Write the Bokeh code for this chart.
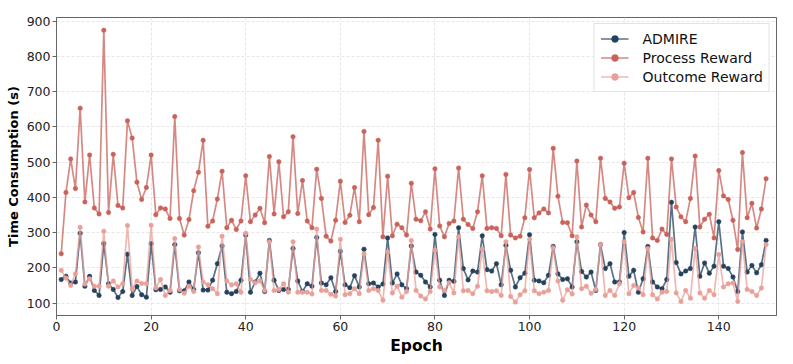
from bokeh.plotting import figure
from bokeh.models import ColumnDataSource, Legend, LegendItem, FixedTicker, Range1d
from bokeh.embed import file_html
from bokeh.resources import INLINE

epochs = list(range(1, 151))

admire = [167, 176, 157, 160, 298, 148, 176, 136, 122, 269,
          155, 139, 116, 133, 239, 122, 147, 124, 117, 269,
          138, 139, 146, 131, 266, 135, 135, 160, 139, 243,
          137, 137, 165, 212, 262, 131, 127, 133, 165, 293,
          131, 160, 185, 133, 278, 165, 136, 139, 139, 255,
          163, 133, 155, 148, 286, 157, 152, 172, 133, 247,
          152, 144, 178, 146, 253, 155, 157, 146, 154, 285,
          157, 183, 152, 141, 262, 188, 179, 160, 146, 295,
          165, 122, 165, 162, 314, 198, 166, 191, 188, 291,
          195, 191, 212, 152, 264, 193, 146, 172, 185, 294,
          165, 163, 158, 179, 261, 183, 167, 169, 146, 274,
          190, 174, 188, 136, 266, 198, 212, 160, 160, 300,
          176, 193, 131, 169, 261, 160, 146, 141, 167, 386,
          215, 183, 191, 198, 316, 176, 214, 185, 205, 331,
          205, 198, 174, 133, 302, 188, 207, 186, 209, 278]

process_reward = [240, 414, 509, 425, 653, 387, 520, 370, 353, 874,
                  357, 522, 377, 370, 617, 568, 443, 394, 428, 520,
                  351, 370, 367, 340, 629, 340, 293, 337, 419, 471,
                  562, 318, 333, 395, 474, 314, 335, 309, 333, 461,
                  331, 350, 369, 328, 516, 353, 501, 345, 359, 572,
                  354, 448, 333, 314, 480, 397, 290, 276, 335, 446,
                  329, 349, 428, 331, 587, 351, 371, 562, 288, 460,
                  291, 324, 314, 293, 440, 338, 334, 359, 310, 481,
                  319, 288, 326, 333, 483, 338, 323, 312, 359, 461,
                  312, 314, 312, 291, 465, 293, 285, 290, 342, 479,
                  342, 356, 367, 356, 539, 403, 329, 328, 291, 503,
                  316, 378, 350, 331, 511, 397, 387, 369, 373, 497,
                  399, 414, 343, 302, 511, 285, 278, 310, 295, 509,
                  373, 345, 331, 397, 517, 316, 338, 352, 285, 476,
                  404, 394, 335, 252, 527, 342, 383, 313, 367, 453]

outcome_reward = [193, 171, 150, 183, 315, 154, 169, 148, 148, 304,
                  148, 163, 146, 155, 320, 141, 163, 156, 155, 321,
                  143, 167, 122, 136, 283, 139, 128, 148, 133, 259,
                  160, 152, 141, 127, 290, 163, 152, 155, 131, 298,
                  167, 158, 163, 136, 274, 136, 139, 155, 131, 274,
                  131, 131, 131, 126, 310, 136, 136, 125, 120, 281,
                  124, 127, 141, 127, 240, 136, 141, 136, 108, 245,
                  129, 148, 117, 133, 278, 136, 120, 112, 133, 250,
                  146, 136, 158, 129, 288, 135, 136, 127, 148, 253,
                  135, 133, 135, 122, 274, 119, 103, 124, 135, 281,
                  135, 127, 131, 136, 257, 163, 108, 138, 126, 288,
                  141, 148, 128, 139, 266, 122, 136, 122, 155, 274,
                  127, 150, 143, 124, 255, 124, 112, 131, 133, 281,
                  129, 105, 136, 114, 255, 129, 114, 136, 124, 238,
                  146, 155, 157, 105, 274, 139, 133, 122, 143, 266]

series_names = ["ADMIRE", "Process Reward", "Outcome Reward"]
series_colors = ["#24425E", "#C8625A", "#E9A098"]
x_ticks = [0, 20, 40, 60, 80, 100, 120, 140]
y_ticks = [100, 200, 300, 400, 500, 600, 700, 800, 900]

src = ColumnDataSource(dict(epoch=epochs, admire=admire,
                            process=process_reward, outcome=outcome_reward))

p = figure(width=785, height=357, output_backend="svg", toolbar_location=None,
           x_range=Range1d(0, 152.2), y_range=Range1d(65, 910),
           min_border_left=56, min_border_right=9, min_border_top=17,
           min_border_bottom=41)
p.background_fill_color = "white"
p.border_fill_color = "white"
p.outline_line_color = "#666666"
p.outline_line_width = 1

items = []
for col, name, color in zip(["admire", "process", "outcome"], series_names, series_colors):
    lr = p.line("epoch", col, source=src, line_color=color, line_width=1.7, line_alpha=0.75)
    sr = p.scatter("epoch", col, source=src, size=4.5, fill_color=color, line_color=color,
                   line_width=0.5)
    items.append(LegendItem(label=name, renderers=[lr, sr]))

legend = Legend(items=items, location="top_right")
legend.margin = 6
legend.padding = 6
legend.spacing = 2
legend.glyph_width = 28
legend.glyph_height = 17
legend.label_height = 17
legend.label_standoff = 14
legend.label_text_font = "DejaVu Sans"
legend.label_text_font_size = "14px"
legend.label_text_color = "#111111"
legend.border_line_color = "#c8c8c8"
legend.border_line_width = 1
legend.background_fill_color = "white"
legend.background_fill_alpha = 1.0
p.add_layout(legend)

for ax in (p.xaxis[0], p.yaxis[0]):
    ax.axis_line_color = "#666666"
    ax.major_tick_line_color = "#666666"
    ax.major_tick_out = 4
    ax.major_tick_in = 0
    ax.minor_tick_line_color = None
    ax.major_label_text_font = "DejaVu Sans"
    ax.major_label_text_font_size = "12.5px"
    ax.major_label_text_color = "#222222"
    ax.major_label_standoff = 2
    ax.axis_label_text_font = "DejaVu Sans"
    ax.axis_label_text_font_style = "bold"
    ax.axis_label_text_color = "#000000"

p.xaxis[0].ticker = FixedTicker(ticks=x_ticks)
p.yaxis[0].ticker = FixedTicker(ticks=y_ticks)
p.xaxis[0].axis_label = "Epoch"
p.yaxis[0].axis_label = "Time Consumption (s)"
p.xaxis[0].axis_label_text_font_size = "15.5px"
p.yaxis[0].axis_label_text_font_size = "13px"
p.xaxis[0].axis_label_standoff = 3
p.yaxis[0].axis_label_standoff = 3

p.xgrid.grid_line_color = "#e0e0e0"
p.ygrid.grid_line_color = "#e0e0e0"
p.xgrid.grid_line_dash = "3 2"
p.ygrid.grid_line_dash = "3 2"
p.xgrid.grid_line_alpha = 0.8
p.ygrid.grid_line_alpha = 0.8

open("out.html", "w").write(file_html(p, INLINE))
